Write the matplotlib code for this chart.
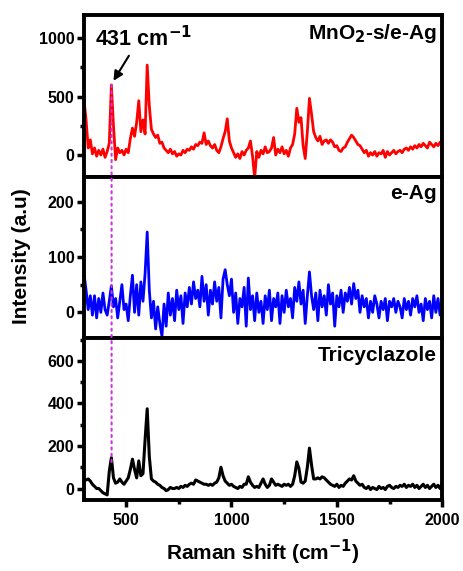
import numpy as np
import matplotlib
matplotlib.use('Agg')
import matplotlib.pyplot as plt
from matplotlib.patches import ConnectionPatch

plt.rcParams['font.family'] = ['Liberation Sans', 'DejaVu Sans']
plt.rcParams['font.weight'] = 'bold'

# Raman shift grid (cm-1), 10 cm-1 steps from 300 to 2000
shift = np.arange(300, 2001, 10)

# MnO2-s/e-Ag (top, red)
mno2_ag = [
    470, 300, 60, 130, 10, 60, -10, 40, 0, 50,
    -20, 30, 100, 600, 250, -40, 60, 20, 40, 0,
    50, 20, 140, 230, 160, 280, 465, 200, 300, 180,
    770, 420, 220, 180, 150, 170, 100, 110, 60, 40,
    20, 50, 10, 30, -10, 10, 0, 40, 20, 50,
    40, 70, 50, 90, 80, 110, 100, 190, 90, 120,
    80, 60, 90, 40, 20, 70, 140, 200, 310, 120,
    60, 20, -20, 10, -30, 30, 0, 40, 60, 120,
    -10, -200, 30, -20, 40, 10, 70, 20, 30, 60,
    150, 0, 50, 20, 70, 10, 40, -10, 60, 90,
    180, 400, 280, 320, 80, -30, 200, 485, 350, 200,
    150, 120, 160, 90, 120, 130, 100, 130, 110, 70,
    80, 40, 30, 60, 70, 110, 140, 170, 150, 120,
    90, 80, 50, 20, 40, -10, 20, 0, 30, -10,
    20, 10, 40, -20, 30, 0, 20, 40, 10, 30,
    40, 20, 50, 60, 40, 70, 50, 80, 60, 90,
    70, 100, 80, 60, 110, 90, 70, 100, 80, 110,
    90,
]

# e-Ag (middle, blue)
e_ag = [
    70, 40, 5, 30, -5, 30, -10, 25, 0, 35,
    5, -5, 20, 48, 10, 25, -10, 20, 50, 5,
    15, -15, 30, 67, 0, 50, -5, 55, 20, 70,
    145, 40, -10, 20, -30, 10, -20, -43, 15, -25,
    35, -5, 25, -15, 40, 5, 30, -20, 35, 10,
    45, 15, 55, 25, 40, 10, 65, 20, 50, -5,
    40, 15, 55, 20, 45, -10, 60, 77, 50, 30,
    60, 0, 35, -20, 25, 10, 45, -25, 62, 5,
    30, -15, 35, 0, 20, -20, 30, 5, 40, -15,
    25, 10, 35, -20, 30, 0, 40, 10, 25, -10,
    45, 20, 55, 15, 40, -20, 30, 73, 30, 5,
    35, -15, 40, 10, 30, -5, 50, 15, 35, -25,
    30, 10, 40, 0, 35, 20, 45, 15, 52, 25,
    40, 0, 30, 10, 25, -10, 20, 0, 30, 15,
    -10, 20, 5, 25, -15, 20, 10, 25, 0, 20,
    10, -10, 25, 5, 20, -5, 25, 10, 30, 0,
    15, -15, 25, 5, 20, -10, 30, 0, 25, -5,
    15,
]

# Tricyclazole (bottom, black)
tricyclazole = [
    45, 40, 45, 35, 20, 10, 0, 0, -10, -20,
    -25, -30, 80, 145, 50, 25, 30, 45, 30, 20,
    35, 50, 90, 138, 90, 50, 130, 60, 70, 230,
    375, 150, 45, 35, 30, 20, 15, 5, 0, -10,
    -5, 5, 0, 0, 5, 0, 10, 5, 15, 10,
    20, 25, 20, 40, 35, 30, 25, 20, 20, 15,
    20, 15, 25, 30, 50, 100, 60, 35, 25, 15,
    20, 10, 5, 0, 10, 5, 20, 20, 55, 30,
    15, 5, 10, 5, 25, 45, 20, 5, 15, 45,
    30, 15, 20, 15, 10, 20, 15, 20, 10, 20,
    60, 125, 95, 30, 25, 35, 100, 190, 110, 45,
    45, 50, 45, 55, 50, 40, 30, 20, 15, 10,
    20, 5, 15, 10, 25, 35, 45, 40, 60, 35,
    25, 15, 20, 5, 0, 10, -5, 5, 0, -5,
    10, 0, 5, -5, 10, 15, 5, 0, 10, 5,
    15, 10, 20, 5, 15, 10, 20, 5, 15, 0,
    10, 20, 5, 15, 0, 10, 20, 5, 15, 0,
    25,
]

series = [mno2_ag, e_ag, tricyclazole]
colors = ['#ff0000', '#0000ff', '#000000']
widths = [2.0, 2.0, 2.2]
labels = ['MnO$_\\mathbf{2}$-s/e-Ag', 'e-Ag', 'Tricyclazole']
ylims = [(-185, 1200), (-47, 245), (-55, 706)]
yticks = [[0, 500, 1000], [0, 100, 200], [0, 200, 400, 600]]
yminor = [250, 50, 100]

fig = plt.figure(figsize=(4.64, 5.71), dpi=100)
gs = fig.add_gridspec(3, 1, left=0.181, right=0.953, top=0.974, bottom=0.124, hspace=0)
axes = [fig.add_subplot(gs[i]) for i in range(3)]

for i, ax in enumerate(axes):
    ax.plot(shift, series[i], color=colors[i], lw=widths[i])
    ax.set_xlim(300, 2000)
    ax.set_ylim(*ylims[i])
    ax.set_yticks(yticks[i])
    ax.yaxis.set_minor_locator(matplotlib.ticker.MultipleLocator(yminor[i]))
    ax.tick_params(axis='y', which='major', direction='out', length=5, width=2.5, labelsize=11.5, pad=2)
    ax.tick_params(axis='y', which='minor', direction='out', length=3, width=2.5)
    for s in ax.spines.values():
        s.set_linewidth(2.8)
    ax.text(0.985, 0.955, labels[i], transform=ax.transAxes, ha='right', va='top',
            fontsize=15, fontweight='bold')
    if i < 2:
        ax.tick_params(axis='x', which='both', bottom=False, labelbottom=False)
    else:
        ax.set_xticks([500, 1000, 1500, 2000])
        ax.xaxis.set_minor_locator(matplotlib.ticker.MultipleLocator(250))
        ax.tick_params(axis='x', which='major', direction='out', length=5, width=2.5, labelsize=11.5, pad=4)
        ax.tick_params(axis='x', which='minor', direction='out', length=3, width=2.5)

# dotted marker line at 431 cm-1 across the panels
con = ConnectionPatch(xyA=(431, 600), coordsA=axes[0].transData,
                      xyB=(431, 110), coordsB=axes[2].transData,
                      color='#cc33dd', lw=1.5, linestyle=(0, (1, 2)), zorder=5)
fig.add_artist(con)

axes[0].annotate('', xy=(433, 615), xytext=(520, 870),
                 arrowprops=dict(arrowstyle='-|>', color='black', lw=1.5, mutation_scale=14))
axes[0].text(352, 1000, '431 cm$^{\\mathbf{-1}}$', ha='left', va='center', fontsize=15.5, fontweight='bold')

fig.text(0.047, 0.552, 'Intensity (a.u)', rotation=90, ha='center', va='center', fontsize=15, fontweight='bold')
fig.text(0.567, 0.032, 'Raman shift (cm$^{\\mathbf{-1}}$)', ha='center', va='center', fontsize=15, fontweight='bold')

fig.savefig('out.png', dpi=100)
